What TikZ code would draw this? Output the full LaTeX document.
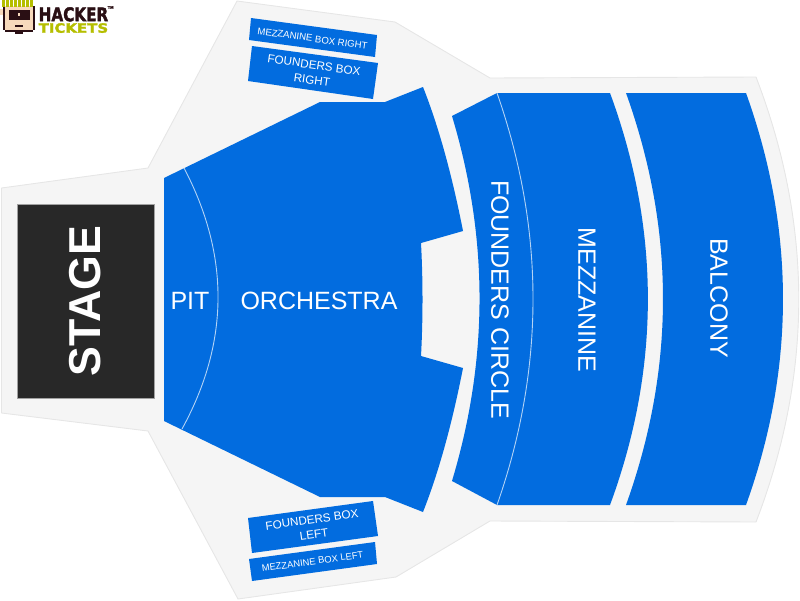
\documentclass[tikz,border=0pt]{standalone}
\usepackage{fontspec}
\usepackage{graphicx}
\setmainfont{Liberation Sans}
\newfontfamily\logofont[BoldFeatures={FakeBold=2}]{DejaVu Sans}
\definecolor{seatblue}{HTML}{026CDF}
\definecolor{venuegrey}{HTML}{F5F5F5}
\definecolor{venueedge}{HTML}{E6E6E6}
\definecolor{stagedark}{HTML}{282828}
\definecolor{logodark}{HTML}{2A0F14}
\definecolor{logoolive}{HTML}{B5BE00}
\definecolor{logoskin}{HTML}{F7D9BC}
\tikzset{
  venue/.style={fill=venuegrey,draw=venueedge,line width=0.9pt,line join=round},
  seats/.style={fill=seatblue,draw=none},
  divider/.style={draw=white!70!seatblue,line width=0.9pt},
  biglabel/.style={text=white,inner sep=0pt,font=\fontsize{25}{28}\selectfont},
  boxlabel/.style={text=white,inner sep=0pt,align=center,font=\fontsize{11.7}{15}\selectfont},
  smallboxlabel/.style={text=white,inner sep=0pt,font=\fontsize{9.6}{11}\selectfont},
  logotext/.style={inner sep=0pt,anchor=north west,font=\logofont\bfseries}
}
\begin{document}
\begin{tikzpicture}[x=1pt,y=-1pt]
\useasboundingbox (0,0) rectangle (800,600);
% venue outline
\path[venue] (1.5,188) -- (148,168) -- (237,1) -- (395,22) -- (490,78) -- (756,77)
  .. controls (813,225.3) and (813,373.7) .. (756,522)
  -- (490,521) -- (396,577) -- (238,599) -- (148,431) -- (1.5,413) -- cycle;
% stage
\path[fill=stagedark,draw=venueedge!70!black,line width=0.4pt] (17,204) rectangle (154,398);
\node[text=white,inner sep=0pt,rotate=90,font=\fontsize{44.7}{48}\selectfont\bfseries] (stage) at (85,301) {STAGE};
% pit and orchestra
\path[seats] (164,178) -- (320,102) -- (385,102) -- (423,87)
  .. controls (440,130) and (453,180) .. (463,231)
  -- (421,243) .. controls (423,280) and (423,319) .. (421,356)
  -- (463,368) .. controls (453,419) and (440,469) .. (423,512)
  -- (385,497) -- (320,497) -- (164,421) -- cycle;
\path[divider] (184,168) .. controls (229.7,255) and (229.7,342) .. (182,429);
\node[biglabel] (pit) at (190,301) {PIT};
\node[biglabel] (orchestra) at (319,301) {ORCHESTRA};
% founders circle and mezzanine
\path[seats] (452,116) -- (497,93) -- (610,93)
  .. controls (660.5,230) and (660.5,368) .. (610,505)
  -- (497,505) -- (452,481)
  .. controls (488.7,359) and (488.7,238) .. (452,116) -- cycle;
\path[divider] (497,93) .. controls (545,230) and (545,368) .. (497,505);
\node[biglabel,rotate=-90] (founders) at (500,299.5) {FOUNDERS CIRCLE};
\node[biglabel,rotate=-90] (mezzanine) at (587,300) {MEZZANINE};
% balcony
\path[seats] (626,93) -- (746,93)
  .. controls (795.3,230) and (795.3,368) .. (746,505)
  -- (626,505) .. controls (675.3,368) and (675.3,230) .. (626,93) -- cycle;
\node[biglabel,rotate=-90] (balcony) at (719,298) {BALCONY};
% boxes
\path[seats] (251,18) -- (377,35) -- (375,57) -- (249,40) -- cycle;
\node[smallboxlabel,rotate=-8] (mbr) at (312.5,38.5) {MEZZANINE BOX RIGHT};
\path[seats] (252,46) -- (378,63) -- (373,99) -- (248,81) -- cycle;
\node[boxlabel,rotate=-8] (fbr) at (313,72.5) {FOUNDERS BOX\\RIGHT};
\path[seats] (248,518) -- (373,501) -- (378,536) -- (252,553) -- cycle;
\node[boxlabel,rotate=8] (fbl) at (313,527) {FOUNDERS BOX\\LEFT};
\path[seats] (249,559) -- (375,542) -- (377,564) -- (252,581) -- cycle;
\node[smallboxlabel,rotate=8,font=\fontsize{9.4}{11}\selectfont] (mbl) at (312.5,561.5) {MEZZANINE BOX LEFT};
% logo
\path[fill=logoskin] (5,6) rectangle (33,31);
\path[fill=logoskin] (0,9) rectangle (5,15);
\path[fill=logodark] (3,6) rectangle (5,30);
\path[fill=logodark] (33,6) rectangle (35,30);
\path[fill=logodark] (5,30) rectangle (33,32);
\path[fill=logodark] (15,32) rectangle (23,34);
\foreach \hx in {2,6,10,14,18,22,26,30}
  \path[fill=logoolive] (\hx,0) rectangle ++(2.6,7);
\path[fill=logodark] (9,10) rectangle (30,20);
\path[fill=logoskin] (18,13) rectangle (20,16);
\path[fill=logodark] (15,25) rectangle (23,27);
\node[logotext,text=logodark] (hacker) at (38.5,7) {\resizebox{69.5pt}{14pt}{HACKER}};
\node[logotext,text=logoolive] (tickets) at (38.5,23) {\resizebox{69.5pt}{9.5pt}{TICKETS}};
\node[logotext,text=logodark,font=\logofont\bfseries\fontsize{3.5}{4}\selectfont] (tm) at (107.5,6) {TM};
\end{tikzpicture}
\end{document}
